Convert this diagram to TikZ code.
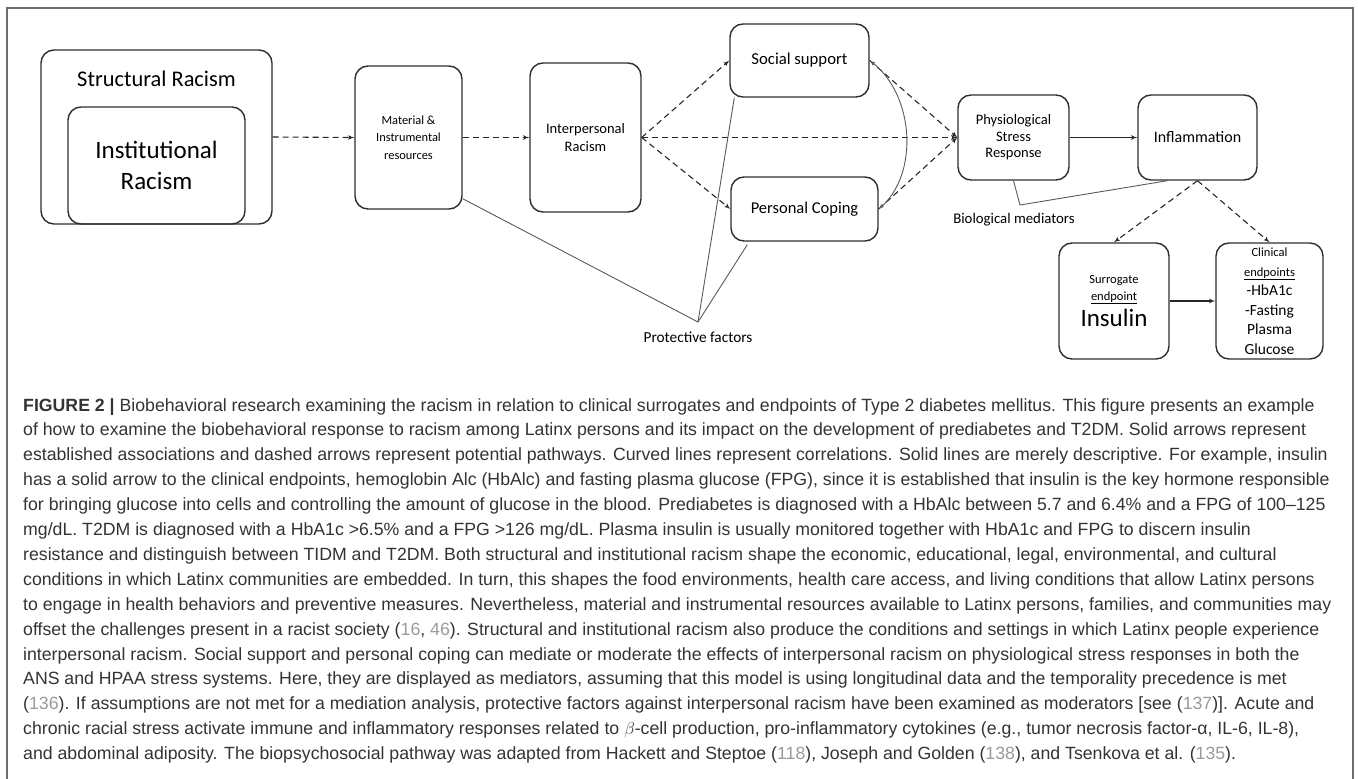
\documentclass[tikz,border=0pt]{standalone}
\usepackage{fontspec}
\setmainfont{Carlito}
\newfontfamily\capfont[Ligatures=TeX]{Liberation Sans}
\usepackage{tikz}
\usetikzlibrary{
  positioning,
  arrows.meta,
  arrows
}
\usepackage{xcolor}
\definecolor{boxline}{HTML}{2E2E2E}
\definecolor{captext}{HTML}{333333}
\definecolor{citegray}{HTML}{9A9A9A}
\definecolor{framegray}{HTML}{6E6E6E}
\newcommand{\refnum}[1]{\textcolor{citegray}{#1}}

\begin{document}
\begin{tikzpicture}[x=1pt,y=-1pt,>=latex',
  box/.style={draw=boxline,line width=1.4pt,rounded corners=13pt,inner sep=0pt,align=center,text=black},
  dasharrow/.style={->,draw=black!85,line width=1.1pt,dash pattern=on 6pt off 4pt},
  solidarrow/.style={->,draw=black!85,line width=1.1pt},
  thinline/.style={draw=black!65,line width=0.9pt}]
            \useasboundingbox (0,0) rectangle (1358,779);
            \draw[framegray,line width=1.2pt] (7,779) -- (7,8) -- (1353,8) -- (1353,779);
            \node[box,minimum width=231pt,minimum height=174pt] (structural) at (156.5,137) {};
            \node[font=\fontsize{22.4}{26}\selectfont] (structlabel) at (156.5,79) {Structural Racism};
            \node[box,minimum width=177pt,minimum height=117pt,font=\fontsize{25}{31}\selectfont] (institutional) at (156.5,165.5) {Institutional\\Racism};
            \node[box,minimum width=107pt,minimum height=143pt,font=\fontsize{12.4}{17.5}\selectfont] (material) at (408.5,137.5) {Material \&\\Instrumental\\resources};
            \node[box,minimum width=111pt,minimum height=149pt,font=\fontsize{14.5}{18}\selectfont] (interpersonal) at (585.5,137.5) {Interpersonal\\Racism};
            \node[box,minimum width=139pt,minimum height=73pt,font=\fontsize{16.7}{19}\selectfont] (social) at (799.5,60.5) {Social support};
            \node[box,minimum width=147pt,minimum height=64pt,font=\fontsize{16.5}{19}\selectfont] (coping) at (804.5,209) {Personal Coping};
            \node[box,minimum width=111pt,minimum height=85pt,font=\fontsize{14.5}{16.5}\selectfont] (stress) at (1013.5,137.5) {Physiological\\Stress\\Response};
            \node[box,minimum width=119pt,minimum height=85pt,font=\fontsize{16}{19}\selectfont] (inflammation) at (1197.5,137.5) {Inflammation};
            \node[box,minimum width=110pt,minimum height=116pt,font=\fontsize{12.5}{17}\selectfont] (surrogate) at (1114,301) {Surrogate\\\underline{endpoint}\\[4pt]{\fontsize{25}{28}\selectfont Insulin}};
            \node[box,minimum width=107pt,minimum height=116pt,font=\fontsize{15.5}{19.5}\selectfont] (clinical) at (1269.5,301) {{\fontsize{12.5}{17}\selectfont Clinical}\\{\fontsize{12.5}{17}\selectfont\underline{endpoints}}\\-HbA1c\\-Fasting\\Plasma\\Glucose};
            \draw[dasharrow] (structural.east) -- (material.west);
            \draw[dasharrow] (material.east) -- (interpersonal.west);
            \draw[dasharrow] (interpersonal.east) -- (social.west);
            \draw[dasharrow] (interpersonal.east) -- (coping.west);
            \draw[dasharrow] (interpersonal.east) -- (stress.west);
            \draw[dasharrow] (social.east) -- (stress.west);
            \draw[dasharrow] (coping.east) -- (stress.west);
            \draw[thinline,<->] (social.east) .. controls +(45,35) and +(40,-35) .. (coping.east);
            \draw[solidarrow] (stress.east) -- (inflammation.west);
            \draw[dasharrow] (inflammation.south) -- (surrogate.north);
            \draw[dasharrow] (inflammation.south) -- (clinical.north);
            \draw[solidarrow] (surrogate.east) -- (clinical.west);
            \coordinate (biobend) at (1020,205);
            \draw[thinline] (stress.south) -- (biobend) -- ([xshift=-30pt]inflammation.south);
            \node[font=\fontsize{14.8}{17}\selectfont] (biolabel) at (1014,220) {Biological mediators};
            \coordinate (protpoint) at (698,322);
            \draw[thinline] ([yshift=11pt]material.south east) -- (protpoint) -- ([xshift=5pt]social.south west);
            \draw[thinline] (protpoint) -- ([xshift=17pt,yshift=-3pt]coping.south west);
            \node[font=\fontsize{15.3}{18}\selectfont] (protlabel) at (698,337) {Protective factors};
            \node[anchor=north west,inner sep=0pt,align=left,text=captext,font=\capfont\fontsize{17.7}{24.9}\selectfont] (caption) at (23,398) {%
\textbf{FIGURE 2 |} Biobehavioral research examining the racism in relation to clinical surrogates and endpoints of Type 2 diabetes mellitus. This figure presents an example\\
of how to examine the biobehavioral response to racism among Latinx persons and its impact on the development of prediabetes and T2DM. Solid arrows represent\\
established associations and dashed arrows represent potential pathways. Curved lines represent correlations. Solid lines are merely descriptive. For example, insulin\\
has a solid arrow to the clinical endpoints, hemoglobin Alc (HbAlc) and fasting plasma glucose (FPG), since it is established that insulin is the key hormone responsible\\
for bringing glucose into cells and controlling the amount of glucose in the blood. Prediabetes is diagnosed with a HbAlc between 5.7 and 6.4\% and a FPG of 100--125\\
mg/dL. T2DM is diagnosed with a HbA1c >6.5\% and a FPG >126 mg/dL. Plasma insulin is usually monitored together with HbA1c and FPG to discern insulin\\
resistance and distinguish between TIDM and T2DM. Both structural and institutional racism shape the economic, educational, legal, environmental, and cultural\\
conditions in which Latinx communities are embedded. In turn, this shapes the food environments, health care access, and living conditions that allow Latinx persons\\
to engage in health behaviors and preventive measures. Nevertheless, material and instrumental resources available to Latinx persons, families, and communities may\\
offset the challenges present in a racist society (\refnum{16}, \refnum{46}). Structural and institutional racism also produce the conditions and settings in which Latinx people experience\\
interpersonal racism. Social support and personal coping can mediate or moderate the effects of interpersonal racism on physiological stress responses in both the\\
ANS and HPAA stress systems. Here, they are displayed as mediators, assuming that this model is using longitudinal data and the temporality precedence is met\\
(\refnum{136}). If assumptions are not met for a mediation analysis, protective factors against interpersonal racism have been examined as moderators [see (\refnum{137})]. Acute and\\
chronic racial stress activate immune and inflammatory responses related to $\beta$-cell production, pro-inflammatory cytokines (e.g., tumor necrosis factor-α, IL-6, IL-8),\\
and abdominal adiposity. The biopsychosocial pathway was adapted from Hackett and Steptoe (\refnum{118}), Joseph and Golden (\refnum{138}), and Tsenkova et al. (\refnum{135}).};
        \end{tikzpicture}
\end{document}
